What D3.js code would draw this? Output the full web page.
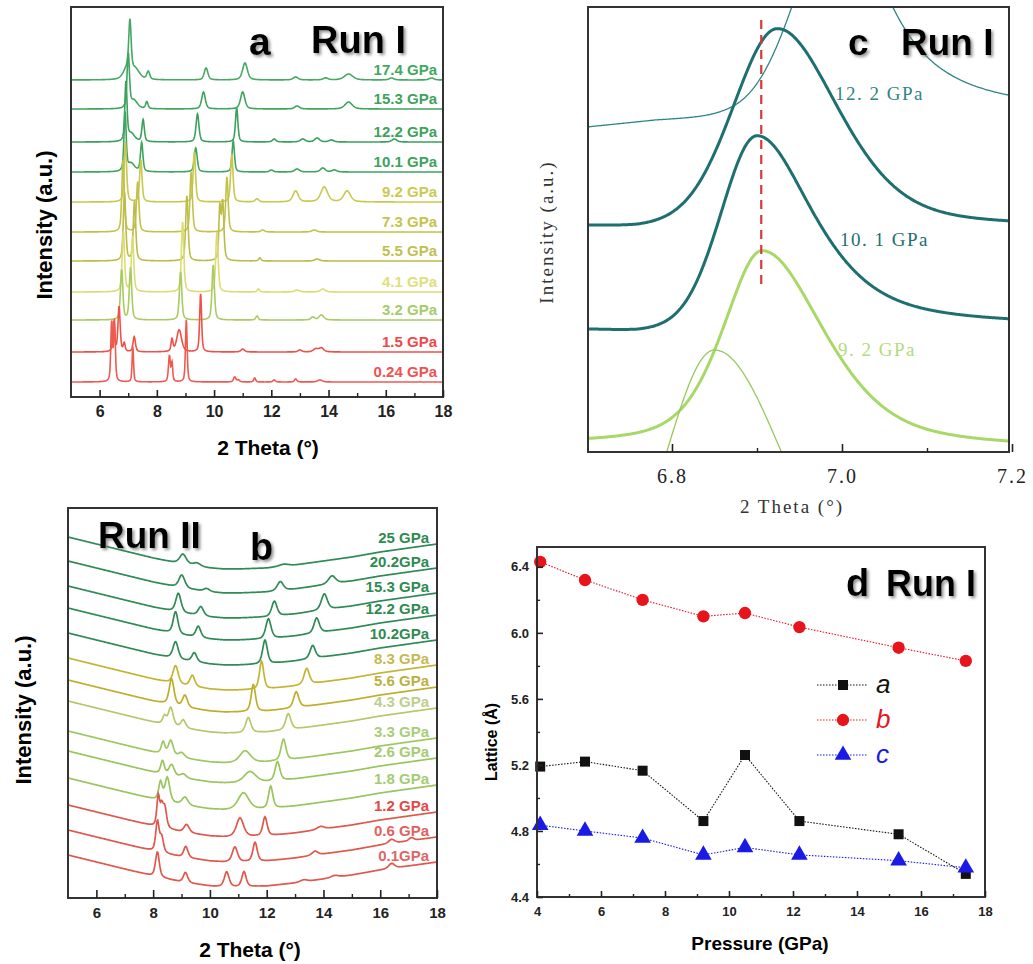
<!DOCTYPE html>
<html lang="en">
<head>
<meta charset="UTF-8">
<title>High-pressure XRD, Run I / Run II</title>
<script src="https://d3js.org/d3.v7.min.js"></script>
<style>
  body { margin: 0; background: #fff; }
  svg { display: block; font-family: Arial, "Liberation Sans", sans-serif; }
</style>
</head>
<body>
<svg width="1033" height="964"></svg>
<script>
// ---------- panel a : Run I patterns, peaks are [2theta, height, fwhm] ----------
const runILabels = ['0.24 GPa', '1.5 GPa', '3.2 GPa', '4.1 GPa', '5.5 GPa', '7.3 GPa',
                    '9.2 GPa', '10.1 GPa', '12.2 GPa', '15.3 GPa', '17.4 GPa'];
const runIOffsets = [15, 45, 77, 105, 136, 165, 195, 225, 255, 288, 317];
const runIPeaks = [
  [[6.42, 58, .07], [6.52, 60, .07], [7.16, 35, .06], [8.44, 26, .08], [8.53, 18, .06], [9.03, 62, .07],
   [10.72, 5, .1], [10.85, 2, .1], [11.42, 4, .08], [12.1, 2, .1], [12.85, 3, .1], [13.7, 2, .2]],
  [[6.49, 30, .08], [6.68, 45, .09], [6.86, 8, .08], [7.21, 15, .1], [8.53, 12, .08], [8.78, 22, .2],
   [9.53, 58, .08], [11.0, 3, .15], [13.0, 2, .15], [13.55, 3, .2], [13.75, 4, .2]],
  [[6.77, 50, .1], [7.08, 52, .1], [8.83, 48, .1], [9.97, 55, .1], [11.5, 4, .1], [13.45, 3, .15], [13.75, 5, .2]],
  [[6.83, 60, .1], [7.15, 55, .1], [8.9, 70, .1], [10.1, 60, .1], [11.55, 3, .1], [12.9, 2, .2], [13.8, 3, .2]],
  [[6.87, 68, .1], [7.22, 60, .1], [9.05, 65, .1], [10.2, 50, .08], [10.3, 58, .1], [11.6, 3, .1], [13.6, 2, .2]],
  [[6.82, 72, .1], [7.33, 50, .1], [9.2, 60, .1], [10.45, 55, .1], [11.7, 2, .15], [13.5, 2, .2]],
  [[6.9, 60, .1], [7.44, 42, .1], [9.31, 50, .1], [10.62, 48, .1], [11.5, 3, .15],
   [12.85, 11, .22], [13.85, 15, .28], [14.65, 11, .28]],
  [[6.89, 58, .09], [7.1, 8, .3], [7.47, 29, .1], [9.36, 24, .12], [10.67, 31, .1],
   [12.0, 2, .15], [12.9, 3, .2], [13.8, 4, .2], [14.2, 2, .2]],
  [[6.92, 58, .09], [7.1, 8, .3], [7.52, 22, .1], [9.42, 28, .12], [10.79, 34, .1],
   [12.1, 3, .15], [13.1, 3, .2], [13.6, 4, .2], [14.1, 2, .2], [16.3, 3, .2]],
  [[7.0, 54, .1], [7.2, 8, .3], [7.65, 7, .1], [9.63, 17, .15], [11.0, 17, .18], [12.9, 3, .2], [14.7, 7, .3]],
  [[6.95, 10, .3], [7.06, 50, .1], [7.25, 10, .35], [7.7, 8, .12], [9.72, 12, .15], [11.08, 17, .2],
   [12.85, 3, .2], [13.9, 2, .2], [14.7, 6, .35], [16.2, 2, .2], [17.6, 2, .2]]
];
const runIColors = ['#ef5a4f', '#ef5048', '#a8cb62', '#dcdc74', '#bcbc48', '#c2c24a',
                    '#c8c84e', '#3fa45e', '#3ba05b', '#3fa45e', '#45a964'];
const runILabelColors = ['#f05252', '#ef4848', '#a6cc6a', '#e0e07a', '#c0c052', '#c4c44c',
                         '#caca50', '#3da35d', '#3da35d', '#3da35d', '#40a860'];

// ---------- panel b : Run II patterns on a sloping background ----------
const runIILabels = ['0.1GPa', '0.6 GPa', '1.2 GPa', '1.8 GPa', '2.6 GPa', '3.3 GPa', '4.3 GPa',
                     '5.6 GPa', '8.3 GPa', '10.2GPa', '12.2 GPa', '15.3 GPa', '20.2GPa', '25 GPa'];
const runIILevels = [11, 36, 61, 88, 115, 135, 165, 186, 208, 233, 258, 280, 305, 329];
const bgTheta = [5, 6, 7, 8, 9, 10, 10.5, 11, 12, 13, 14, 15, 16, 17, 18];
const bgLift = [32, 25, 18, 11, 5, 1, 0, 0, 1, 4, 8, 12, 17, 21, 25];
const runIIPeaks = [
  [[8.15, 25, .16], [9.14, 10, .18], [10.59, 15, .2], [11.2, 15, .18], [13.3, 2, .3], [14.4, 2, .3], [16.4, 5, .25]],
  [[8.15, 30, .14], [8.3, 15, .15], [9.15, 11, .18], [10.88, 15, .22], [11.59, 19, .18], [13.7, 4, .25], [16.4, 4, .25], [17.1, 3, .2]],
  [[8.18, 30, .12], [8.3, 18, .12], [8.41, 20, .15], [9.18, 8, .22], [11.06, 19, .3], [11.94, 19, .18], [13.9, 3, .3]],
  [[8.26, 18, .15], [8.5, 24, .2], [9.12, 8, .25], [11.18, 17, .45], [12.14, 22, .18]],
  [[8.33, 13, .15], [8.65, 11, .22], [9.06, 4, .25], [11.41, 11, .5], [12.38, 19, .2]],
  [[8.35, 12, .15], [8.62, 15, .2], [9.0, 5, .25], [11.24, 12, .45], [12.59, 21, .2]],
  [[8.4, 8, .15], [8.62, 18, .2], [9.06, 8, .2], [11.35, 15, .22], [12.76, 16, .22]],
  [[8.65, 26, .2], [9.12, 12, .2], [11.53, 27, .18], [13.04, 16, .22]],
  [[8.79, 18, .22], [9.38, 11, .2], [11.82, 28, .18], [13.41, 16, .22]],
  [[8.79, 17, .22], [9.45, 9, .2], [11.94, 24, .2], [13.62, 13, .22]],
  [[8.79, 22, .2], [9.59, 11, .2], [12.06, 20, .22], [13.76, 15, .22]],
  [[8.89, 19, .22], [9.68, 9, .22], [12.27, 15, .22], [14.03, 16, .25]],
  [[9.01, 13, .25], [9.89, 3, .25], [12.48, 9, .25], [14.3, 8, .3]],
  [[9.05, 10, .28], [9.54, 3, .3], [12.6, 2, .4]]
];
const runIIColors = ['#e0574c', '#e0574c', '#e0574c', '#98c55c', '#98c55c', '#9dc860', '#b8c66c',
                     '#bfae2c', '#c4b434', '#2f8a55', '#2f8a55', '#2f8a55', '#2f8a55', '#2f8a55'];
const runIILabelColors = ['#e06666', '#e06262', '#e24848', '#a4cc72', '#a4cc72', '#a8ce78', '#bccf8c',
                          '#bcb044', '#c7b852', '#2e8b50', '#2e8b50', '#2e8b50', '#2e8b50', '#2e8b50'];

// ---------- panel c : zoom on the ~6.9 deg peak ----------
// peak: [centre, height, hwhm left, hwhm right, lorentz share left, lorentz share right]
const cBaselines = [
  [[6.7, 325], [6.78, 332], [6.86, 336], [7.2, 338]],
  [[6.7, 225], [6.76, 223], [7.2, 224]],
  [[6.7, 122], [6.76, 120], [7.2, 124]],
  [[6.7, 7], [7.2, 3]],
  [[6.7, -150], [7.2, -150]]
];
const cPeaks = [
  [7.0, 208, .061, .062, 0, 1],
  [6.924, 200, .062, .085, .15, .4],
  [6.9, 195, .05, .08, .1, .7],
  [6.906, 196, .055, .086, .5, .5],
  [6.85, 252, .065, .091, 0, 0]
];
const cStrokes = ['#2f8585', '#1e6f70', '#1e6f70', '#a8d868', '#96c95c'];
const cWidths = [1.3, 3, 3, 3, 1.3];
const cLabels = ['12. 2 GPa', '10. 1 GPa', '9. 2 GPa'];
const cMarker = 6.905;

// ---------- panel d : lattice parameters vs pressure ----------
const pressure = [4.1, 5.5, 7.3, 9.2, 10.5, 12.2, 15.3, 17.4];
const latticeA = [5.19, 5.22, 5.165, 4.86, 5.26, 4.86, 4.78, 4.54];
const latticeB = [6.43, 6.32, 6.20, 6.10, 6.12, 6.035, 5.91, 5.83];
const latticeC = [4.835, 4.80, 4.757, 4.655, 4.70, 4.655, 4.62, 4.577];
const latticeNames = ['a', 'b', 'c'];

const svg = d3.select('svg');
const defs = svg.append('defs');
const shadow = defs.append('filter').attr('id', 'shadow')
    .attr('x', '-20%').attr('y', '-20%').attr('width', '150%').attr('height', '160%');
shadow.append('feDropShadow').attr('dx', 2).attr('dy', 2)
    .attr('stdDeviation', 1.8).attr('flood-color', '#777').attr('flood-opacity', 0.8);

function pv(t, p, eta) {
  const u = (t - p[0]) / (p[2] / 2);
  return p[1] * (eta / (1 + u * u) + (1 - eta) * Math.exp(-Math.LN2 * u * u));
}
function pvAsym(t, p) {
  const left = t < p[0];
  const u = (t - p[0]) / (left ? p[2] : p[3]);
  const eta = left ? p[4] : p[5];
  return p[1] * (eta / (1 + u * u) + (1 - eta) * Math.exp(-Math.LN2 * u * u));
}

function frame(x0, y0, x1, y1, id) {
  defs.append('clipPath').attr('id', id).append('rect')
      .attr('x', x0).attr('y', y0).attr('width', x1 - x0).attr('height', y1 - y0);
  return [x0, y0, x1, y1];
}
function drawBox(b, w) {
  svg.append('rect').attr('x', b[0]).attr('y', b[1]).attr('width', b[2] - b[0]).attr('height', b[3] - b[1])
      .attr('fill', 'none').attr('stroke', '#333').attr('stroke-width', w);
}
function bottomTicks(x, yPos, majors, minors, majLen, minLen, fmt, pad, font) {
  const g = svg.append('g').attr('transform', `translate(0,${yPos})`)
      .call(d3.axisBottom(x).tickValues(majors).tickSize(-majLen).tickPadding(pad).tickFormat(fmt));
  g.select('.domain').remove();
  g.selectAll('line').attr('stroke', '#222').attr('stroke-width', 1.6);
  g.selectAll('text').attr('fill', '#222').style('font', font);
  const m = svg.append('g').attr('transform', `translate(0,${yPos})`)
      .call(d3.axisBottom(x).tickValues(minors).tickSize(-minLen).tickFormat(''));
  m.select('.domain').remove();
  m.selectAll('line').attr('stroke', '#222').attr('stroke-width', 1.4);
  return g;
}

// ================= panel a =================
const boxA = frame(71, 7, 443, 397, 'clipA');
const xA = d3.scaleLinear().domain([5, 18]).range([71, 443]);
const yA = d3.scaleLinear().domain([0, 390]).range([397, 7]);
const gridA = d3.range(5, 18.0001, 0.01);
const lineA = d3.line().x(d => xA(d[0])).y(d => yA(d[1]));
const gA = svg.append('g').attr('clip-path', 'url(#clipA)');
for (let i = runIOffsets.length - 1; i >= 0; i--) {
  const pts = gridA.map(t => [t, runIOffsets[i] + d3.sum(runIPeaks[i], p => pv(t, p, 0.5))]);
  gA.append('path').attr('d', lineA(pts)).attr('fill', 'none')
      .attr('stroke', runIColors[i]).attr('stroke-width', 1.6);
}
runILabels.forEach((l, i) => {
  svg.append('text').attr('x', 437).attr('y', yA(runIOffsets[i]) - 5)
      .attr('text-anchor', 'end').attr('fill', runILabelColors[i])
      .style('font', 'bold 15px Arial').text(l);
});
drawBox(boxA, 2);
bottomTicks(xA, 397, d3.range(6, 19, 2), d3.range(7, 18, 2), 7, 4, d3.format('d'), 9, 'bold 16px Arial');
svg.append('text').attr('x', 268).attr('y', 455).attr('text-anchor', 'middle')
    .style('font', 'bold 21px Arial').text('2 Theta (°)');
svg.append('text').attr('transform', 'translate(52,225) rotate(-90)').attr('text-anchor', 'middle')
    .style('font', 'bold 22px Arial').text('Intensity (a.u.)');
svg.append('text').attr('x', 249).attr('y', 55).attr('filter', 'url(#shadow)')
    .style('font', 'bold 39px Arial').text('a');
svg.append('text').attr('x', 311).attr('y', 53).attr('filter', 'url(#shadow)')
    .style('font', 'bold 38px Arial').text('Run I');

// ================= panel b =================
const boxB = frame(68, 508, 437, 898, 'clipB');
const xB = d3.scaleLinear().domain([5, 18]).range([68, 437]);
const yB = d3.scaleLinear().domain([0, 390]).range([898, 508]);
const bg = d3.scaleLinear().domain(bgTheta).range(bgLift);
const gridB = d3.range(5, 18.0001, 0.02);
const lineB = d3.line().x(d => xB(d[0])).y(d => yB(d[1]));
const gB = svg.append('g').attr('clip-path', 'url(#clipB)');
for (let i = runIILevels.length - 1; i >= 0; i--) {
  const pts = gridB.map(t => [t, runIILevels[i] + bg(t) + d3.sum(runIIPeaks[i], p => pv(t, p, 0.5))]);
  gB.append('path').attr('d', lineB(pts)).attr('fill', 'none')
      .attr('stroke', runIIColors[i]).attr('stroke-width', 1.7);
}
runIILabels.forEach((l, i) => {
  svg.append('text').attr('x', 429).attr('y', yB(runIILevels[i] + bg(18)) - 1)
      .attr('text-anchor', 'end').attr('fill', runIILabelColors[i])
      .style('font', 'bold 15px Arial').text(l);
});
drawBox(boxB, 2);
bottomTicks(xB, 898, d3.range(6, 19, 2), d3.range(7, 18, 2), 8, 4, d3.format('d'), 9, 'bold 15px Arial');
svg.append('text').attr('x', 250).attr('y', 957).attr('text-anchor', 'middle')
    .style('font', 'bold 21px Arial').text('2 Theta (°)');
svg.append('text').attr('transform', 'translate(31,710) rotate(-90)').attr('text-anchor', 'middle')
    .style('font', 'bold 22px Arial').text('Intensity (a.u.)');
svg.append('text').attr('x', 98).attr('y', 548).attr('filter', 'url(#shadow)')
    .style('font', 'bold 37px Arial').text('Run II');
svg.append('text').attr('x', 250).attr('y', 560).attr('filter', 'url(#shadow)')
    .style('font', 'bold 38px Arial').text('b');

// ================= panel c =================
const boxC = frame(588, 7, 1009, 452, 'clipC');
const xC = d3.scaleLinear().domain([6.7, 7.2]).range([587, 1012]);
const yC = d3.scaleLinear().domain([0, 445]).range([452, 7]);
const gridC = d3.range(6.7, 7.2001, 0.001);
const lineC = d3.line().x(d => xC(d[0])).y(d => yC(d[1]));
const gC = svg.append('g').attr('clip-path', 'url(#clipC)');
cBaselines.forEach((b, i) => {
  const base = d3.scaleLinear().domain(b.map(d => d[0])).range(b.map(d => d[1]));
  const pts = gridC.map(t => [t, base(t) + pvAsym(t, cPeaks[i])]);
  gC.append('path').attr('d', lineC(pts)).attr('fill', 'none')
      .attr('stroke', cStrokes[i]).attr('stroke-width', cWidths[i]).attr('stroke-linejoin', 'round');
});
svg.append('line').attr('x1', xC(cMarker)).attr('x2', xC(cMarker))
    .attr('y1', yC(432)).attr('y2', yC(168))
    .attr('stroke', '#d8383a').attr('stroke-width', 2.2).attr('stroke-dasharray', '9,6');
const cFont = '19px "Liberation Serif", "DejaVu Serif", serif';
[[835, 100, cStrokes[0]], [840, 246, cStrokes[2]], [838, 356, '#b3db80']].forEach((p, i) => {
  svg.append('text').attr('x', p[0]).attr('y', p[1]).attr('fill', p[2])
      .style('font', cFont).style('letter-spacing', '1.5px').text(cLabels[i]);
});
drawBox(boxC, 2);
bottomTicks(xC, 452, [6.8, 7.0, 7.2], [6.9, 7.1], 8, 4, d3.format('.1f'), 17,
            '20px "Liberation Serif", "DejaVu Serif", serif')
    .selectAll('text').style('letter-spacing', '2px');
svg.append('text').attr('x', 792).attr('y', 513).attr('text-anchor', 'middle').attr('fill', '#333')
    .style('font', cFont).style('letter-spacing', '2px').text('2 Theta (°)');
svg.append('text').attr('transform', 'translate(553,232) rotate(-90)').attr('text-anchor', 'middle')
    .attr('fill', '#333').style('font', cFont).style('letter-spacing', '2px').text('Intensity (a.u.)');
svg.append('text').attr('x', 848).attr('y', 55).attr('filter', 'url(#shadow)')
    .style('font', 'bold 37px Arial').text('c');
svg.append('text').attr('x', 901).attr('y', 55).attr('filter', 'url(#shadow)')
    .style('font', 'bold 37px Arial').text('Run I');

// ================= panel d =================
const boxD = [537, 547, 985, 897];
const xD = d3.scaleLinear().domain([4, 18]).range([537, 985]);
const yD = d3.scaleLinear().domain([4.4, 6.52]).range([897, 547]);
const series = [latticeA, latticeB, latticeC];
const dColors = ['#111', '#e8141c', '#1a1ae6'];
const dSymbols = [d3.symbolSquare, d3.symbolCircle, d3.symbolTriangle];
const dSizes = [100, 120, 120];
const lineD = d3.line().x((d, i) => xD(pressure[i])).y(d => yD(d));
series.forEach((s, k) => {
  svg.append('path').attr('d', lineD(s)).attr('fill', 'none')
      .attr('stroke', dColors[k]).attr('stroke-width', 1.1).attr('stroke-dasharray', '1.5,1.5');
});
series.forEach((s, k) => {
  svg.selectAll(null).data(s).enter().append('path')
      .attr('d', d3.symbol(dSymbols[k], dSizes[k]))
      .attr('transform', (d, i) => `translate(${xD(pressure[i])},${yD(d)})`)
      .attr('fill', dColors[k]);
});
latticeNames.forEach((n, k) => {
  const ly = 685 + k * 35;
  svg.append('line').attr('x1', 817).attr('x2', 868).attr('y1', ly).attr('y2', ly)
      .attr('stroke', dColors[k]).attr('stroke-width', 1.1).attr('stroke-dasharray', '1.5,1.5');
  svg.append('path').attr('d', d3.symbol(dSymbols[k], dSizes[k]))
      .attr('transform', `translate(843,${ly})`).attr('fill', dColors[k]);
  svg.append('text').attr('x', 876).attr('y', ly + 8).attr('fill', dColors[k])
      .style('font', 'italic 26px Arial').text(n);
});
drawBox(boxD, 2);
bottomTicks(xD, 897, d3.range(4, 19, 2), d3.range(5, 18, 2), 6, 3, d3.format('d'), 10, 'bold 13px Arial');
const yAx = svg.append('g').attr('transform', 'translate(537,0)')
    .call(d3.axisLeft(yD).tickValues([4.4, 4.8, 5.2, 5.6, 6.0, 6.4]).tickSize(-6).tickPadding(8).tickFormat(d3.format('.1f')));
yAx.select('.domain').remove();
yAx.selectAll('line').attr('stroke', '#222').attr('stroke-width', 1.6);
yAx.selectAll('text').attr('fill', '#222').style('font', 'bold 13px Arial');
const yMin = svg.append('g').attr('transform', 'translate(537,0)')
    .call(d3.axisLeft(yD).tickValues([4.6, 5.0, 5.4, 5.8, 6.2]).tickSize(-3).tickFormat(''));
yMin.select('.domain').remove();
yMin.selectAll('line').attr('stroke', '#222').attr('stroke-width', 1.4);
svg.append('text').attr('x', 760).attr('y', 950).attr('text-anchor', 'middle')
    .style('font', 'bold 19px Arial').text('Pressure (GPa)');
svg.append('text').attr('transform', 'translate(497,742) rotate(-90)').attr('text-anchor', 'middle')
    .style('font', 'bold 16px Arial').text('Lattice (Å)');
svg.append('text').attr('x', 846).attr('y', 596).attr('filter', 'url(#shadow)')
    .style('font', 'bold 38px Arial').text('d');
svg.append('text').attr('x', 886).attr('y', 596).attr('filter', 'url(#shadow)')
    .style('font', 'bold 36px Arial').text('Run I');
</script>
</body>
</html>
